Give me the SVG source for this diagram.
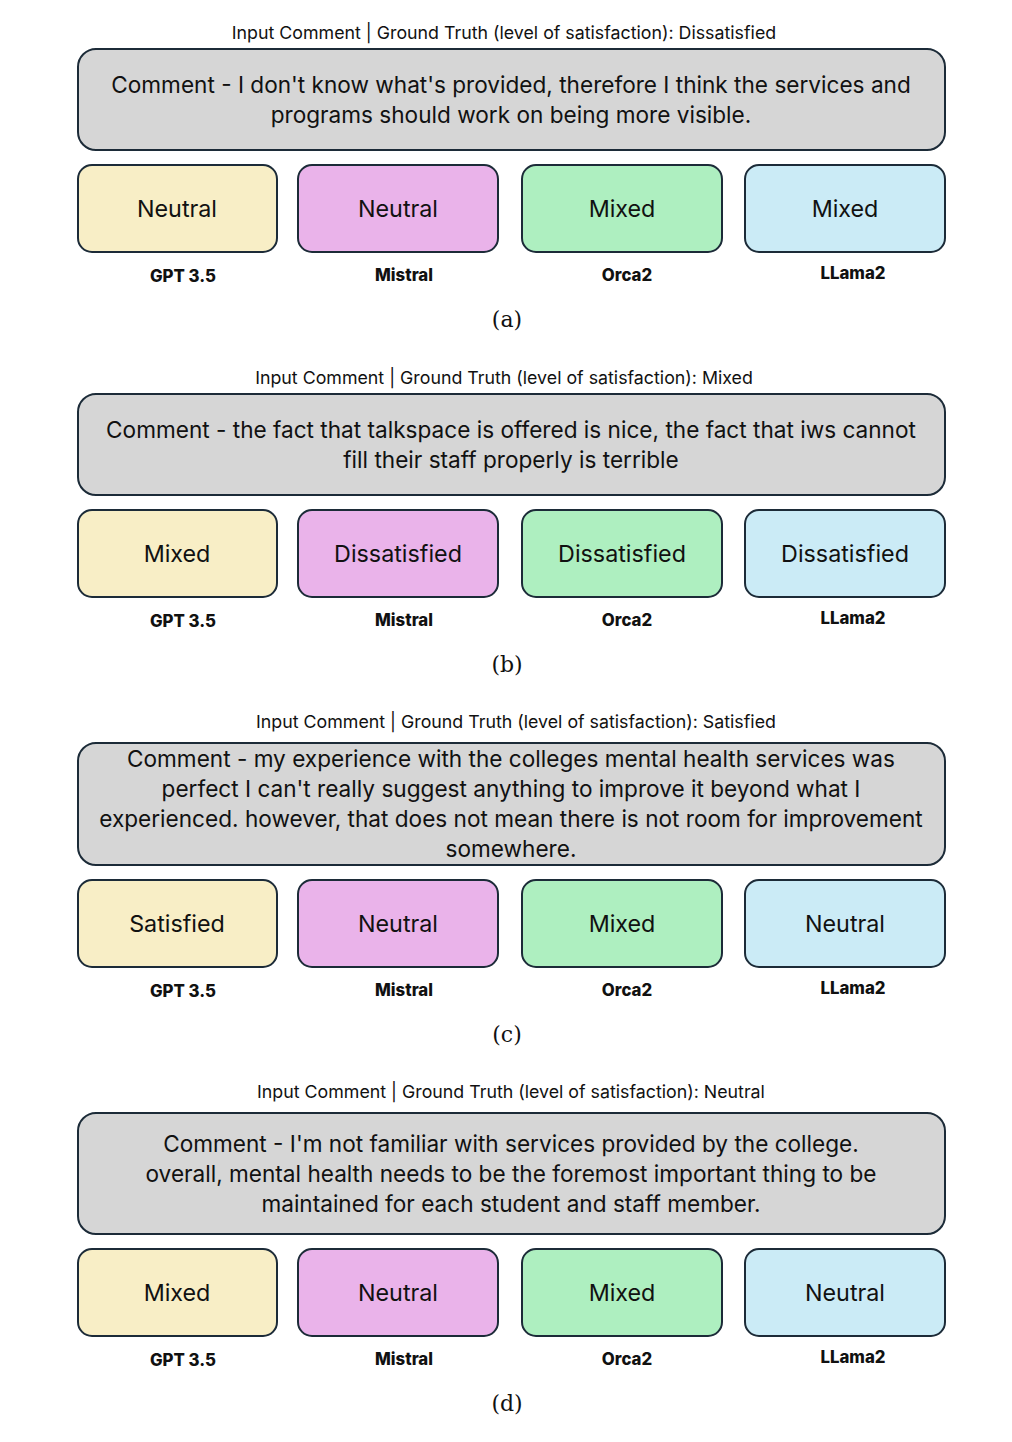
<svg xmlns="http://www.w3.org/2000/svg" width="1012" height="1442" viewBox="0 0 1012 1442">
<style>
.bg{fill:#ffffff}
.cm{fill:#d6d6d6;stroke:#1c2b38;stroke-width:2}
.b{stroke:#1c2b38;stroke-width:2}
.y{fill:#f8eec6}.p{fill:#eab3ea}.g{fill:#aeefc0}.u{fill:#cbebf6}
.hd{font-family:Inter,"Noto Sans","Liberation Sans",sans-serif;font-size:17.8px;fill:#111;text-anchor:middle}
.ct{font-family:Inter,"Noto Sans","Liberation Sans",sans-serif;font-size:22.6px;fill:#111;text-anchor:middle}
.bt{font-family:Inter,"Noto Sans","Liberation Sans",sans-serif;font-size:23.3px;fill:#111;text-anchor:middle}
.ml{font-family:Inter,"Noto Sans","Liberation Sans",sans-serif;font-size:16.8px;font-weight:800;fill:#111;text-anchor:middle}
.cap{font-family:"DejaVu Serif","Liberation Serif",serif;font-size:22px;fill:#111;text-anchor:middle}
</style>
<rect class="bg" x="0" y="0" width="1012" height="1442"/>
<g id="connectors"></g>

<g id="panel-a">
<text class="hd" x="504" y="39">Input Comment | Ground Truth (level of satisfaction): Dissatisfied</text>
<g id="a-comment"><rect class="cm" x="78" y="49" width="867" height="101" rx="18"/>
<text class="ct" x="511" y="93">Comment - I don't know what's provided, therefore I think the services and</text>
<text class="ct" x="511" y="123">programs should work on being more visible.</text></g>
<g id="a-gpt"><rect class="b y" x="78" y="165" width="199" height="87" rx="14"/><text class="bt" x="177" y="217">Neutral</text></g>
<g id="a-mistral"><rect class="b p" x="298" y="165" width="200" height="87" rx="14"/><text class="bt" x="398" y="217">Neutral</text></g>
<g id="a-orca"><rect class="b g" x="522" y="165" width="200" height="87" rx="14"/><text class="bt" x="622" y="217">Mixed</text></g>
<g id="a-llama"><rect class="b u" x="745" y="165" width="200" height="87" rx="14"/><text class="bt" x="845" y="217">Mixed</text></g>
<text class="ml" x="183" y="282">GPT 3.5</text>
<text class="ml" x="404" y="281">Mistral</text>
<text class="ml" x="627" y="281">Orca2</text>
<text class="ml" x="853" y="279">LLama2</text>
<text class="cap" x="507" y="327">(a)</text>
</g>

<g id="panel-b">
<text class="hd" x="504" y="384">Input Comment | Ground Truth (level of satisfaction): Mixed</text>
<g id="b-comment"><rect class="cm" x="78" y="394" width="867" height="101" rx="18"/>
<text class="ct" x="511" y="438">Comment - the fact that talkspace is offered is nice, the fact that iws cannot</text>
<text class="ct" x="511" y="468">fill their staff properly is terrible</text></g>
<g id="b-gpt"><rect class="b y" x="78" y="510" width="199" height="87" rx="14"/><text class="bt" x="177" y="562">Mixed</text></g>
<g id="b-mistral"><rect class="b p" x="298" y="510" width="200" height="87" rx="14"/><text class="bt" x="398" y="562">Dissatisfied</text></g>
<g id="b-orca"><rect class="b g" x="522" y="510" width="200" height="87" rx="14"/><text class="bt" x="622" y="562">Dissatisfied</text></g>
<g id="b-llama"><rect class="b u" x="745" y="510" width="200" height="87" rx="14"/><text class="bt" x="845" y="562">Dissatisfied</text></g>
<text class="ml" x="183" y="627">GPT 3.5</text>
<text class="ml" x="404" y="626">Mistral</text>
<text class="ml" x="627" y="626">Orca2</text>
<text class="ml" x="853" y="624">LLama2</text>
<text class="cap" x="507" y="672">(b)</text>
</g>

<g id="panel-c">
<text class="hd" x="516" y="728">Input Comment | Ground Truth (level of satisfaction): Satisfied</text>
<g id="c-comment"><rect class="cm" x="78" y="743" width="867" height="122" rx="18"/>
<text class="ct" x="511" y="767">Comment - my experience with the colleges mental health services was</text>
<text class="ct" x="511" y="797">perfect I can't really suggest anything to improve it beyond what I</text>
<text class="ct" x="511" y="827">experienced. however, that does not mean there is not room for improvement</text>
<text class="ct" x="511" y="857">somewhere.</text></g>
<g id="c-gpt"><rect class="b y" x="78" y="880" width="199" height="87" rx="14"/><text class="bt" x="177" y="932">Satisfied</text></g>
<g id="c-mistral"><rect class="b p" x="298" y="880" width="200" height="87" rx="14"/><text class="bt" x="398" y="932">Neutral</text></g>
<g id="c-orca"><rect class="b g" x="522" y="880" width="200" height="87" rx="14"/><text class="bt" x="622" y="932">Mixed</text></g>
<g id="c-llama"><rect class="b u" x="745" y="880" width="200" height="87" rx="14"/><text class="bt" x="845" y="932">Neutral</text></g>
<text class="ml" x="183" y="997">GPT 3.5</text>
<text class="ml" x="404" y="996">Mistral</text>
<text class="ml" x="627" y="996">Orca2</text>
<text class="ml" x="853" y="994">LLama2</text>
<text class="cap" x="507" y="1042">(c)</text>
</g>

<g id="panel-d">
<text class="hd" x="511" y="1098">Input Comment | Ground Truth (level of satisfaction): Neutral</text>
<g id="d-comment"><rect class="cm" x="78" y="1113" width="867" height="121" rx="18"/>
<text class="ct" x="511" y="1152">Comment - I'm not familiar with services provided by the college.</text>
<text class="ct" x="511" y="1182">overall, mental health needs to be the foremost important thing to be</text>
<text class="ct" x="511" y="1212">maintained for each student and staff member.</text></g>
<g id="d-gpt"><rect class="b y" x="78" y="1249" width="199" height="87" rx="14"/><text class="bt" x="177" y="1301">Mixed</text></g>
<g id="d-mistral"><rect class="b p" x="298" y="1249" width="200" height="87" rx="14"/><text class="bt" x="398" y="1301">Neutral</text></g>
<g id="d-orca"><rect class="b g" x="522" y="1249" width="200" height="87" rx="14"/><text class="bt" x="622" y="1301">Mixed</text></g>
<g id="d-llama"><rect class="b u" x="745" y="1249" width="200" height="87" rx="14"/><text class="bt" x="845" y="1301">Neutral</text></g>
<text class="ml" x="183" y="1366">GPT 3.5</text>
<text class="ml" x="404" y="1365">Mistral</text>
<text class="ml" x="627" y="1365">Orca2</text>
<text class="ml" x="853" y="1363">LLama2</text>
<text class="cap" x="507" y="1411">(d)</text>
</g>
</svg>
